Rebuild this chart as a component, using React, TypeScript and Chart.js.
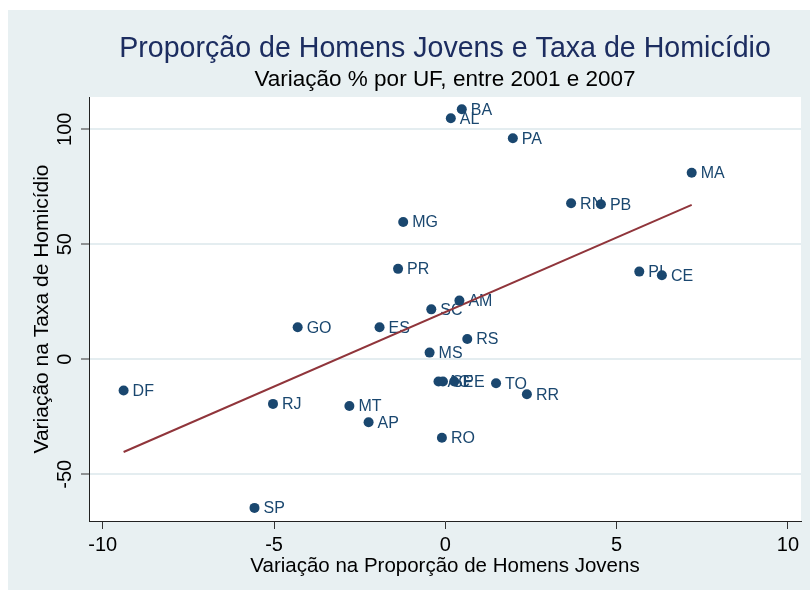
import React, { useEffect, useRef } from "react";
import { Chart, registerables } from "chart.js";

Chart.register(...registerables);

const mainTitle = "Proporção de Homens Jovens e Taxa de Homicídio";
const subTitle = "Variação % por UF, entre 2001 e 2007";
const xTitle = "Variação na Proporção de Homens Jovens";
const yTitle = "Variação na Taxa de Homicídio";

const ufLabels = ["BA", "AL", "PA", "MA", "RN", "PB", "MG", "PR", "PI", "CE", "AM", "SC", "GO", "ES", "RS", "MS", "DF", "AC", "SE", "PE", "TO", "RR", "RJ", "MT", "AP", "RO", "SP"];
const xValues = [0.48, 0.16, 1.97, 7.19, 3.67, 4.54, -1.23, -1.38, 5.66, 6.32, 0.41, -0.41, -4.31, -1.92, 0.64, -0.46, -9.39, -0.2, -0.07, 0.26, 1.48, 2.38, -5.03, -2.8, -2.24, -0.1, -5.57];
const yValues = [108.7, 104.8, 96.1, 81.1, 67.8, 67.4, 59.7, 39.3, 38.1, 36.5, 25.5, 21.7, 13.9, 13.9, 8.8, 2.9, -13.6, -9.7, -9.7, -9.7, -10.4, -15.2, -19.4, -20.3, -27.4, -34.1, -64.6];

const fitX = [-9.39, 7.19];
const fitY = [-40.3, 67.1];

const xTicks = [-10, -5, 0, 5, 10];
const yTicks = [-50, 0, 50, 100];

const NAVY = "#1a476f";
const MAROON = "#90353b";
const BG = "#e8f0f2";
const FONT = "'Liberation Sans', Arial, sans-serif";

const decorPlugin = {
  id: "decor",
  beforeDraw(chart: any) {
    const { ctx, chartArea } = chart;
    ctx.save();
    ctx.fillStyle = "#ffffff";
    ctx.fillRect(chartArea.left, chartArea.top, chartArea.right - chartArea.left, chartArea.bottom - chartArea.top);
    ctx.restore();
  },
  beforeDatasetsDraw(chart: any) {
    const { ctx } = chart;
    const meta = chart.getDatasetMeta(0);
    ctx.save();
    ctx.font = `16px ${FONT}`;
    ctx.fillStyle = NAVY;
    ctx.textAlign = "left";
    ctx.textBaseline = "middle";
    meta.data.forEach((el: any, i: number) => {
      ctx.fillText(ufLabels[i], el.x + 9, el.y + 1);
    });
    ctx.restore();
  },
  afterDraw(chart: any) {
    const { ctx, chartArea, scales } = chart;
    const cx = (chartArea.left + chartArea.right) / 2;
    ctx.save();
    ctx.textAlign = "center";
    ctx.textBaseline = "middle";
    ctx.fillStyle = "#1c2d60";
    ctx.font = `28.6px ${FONT}`;
    ctx.fillText(mainTitle, cx, 39);
    ctx.fillStyle = "#000000";
    ctx.font = `22.5px ${FONT}`;
    ctx.fillText(subTitle, cx, 70);
    // y tick labels (rotated)
    ctx.font = `20px ${FONT}`;
    yTicks.forEach((v) => {
      const py = scales.y.getPixelForValue(v);
      ctx.save();
      ctx.translate(57, py);
      ctx.rotate(-Math.PI / 2);
      ctx.fillText(String(v), 0, 0);
      ctx.restore();
    });
    ctx.restore();
  },
};

export default function App() {
  const ref = useRef<HTMLCanvasElement | null>(null);
  useEffect(() => {
    if (!ref.current) return;
    const points = xValues.map((x, i) => ({ x, y: yValues[i] }));
    const fit = fitX.map((x, i) => ({ x, y: fitY[i] }));
    const chart = new Chart(ref.current, {
      type: "scatter",
      data: {
        datasets: [
          {
            data: points,
            backgroundColor: NAVY,
            borderColor: NAVY,
            pointRadius: 5,
            pointBorderWidth: 0,
            showLine: false,
          },
          {
            type: "line",
            data: fit,
            borderColor: MAROON,
            borderWidth: 2,
            pointRadius: 0,
            fill: false,
          } as any,
        ],
      },
      options: {
        responsive: false,
        animation: false,
        layout: { padding: { top: 87, right: 9, left: 0, bottom: 0 } },
        plugins: {
          legend: { display: false },
          tooltip: { enabled: false },
          title: { display: false },
        },
        scales: {
          x: {
            type: "linear",
            min: -10.4,
            max: 10.38,
            afterBuildTicks: (s: any) => {
              s.ticks = xTicks.map((v) => ({ value: v }));
            },
            afterFit: (s: any) => {
              s.height = 69;
              s.paddingLeft = 0;
              s.paddingRight = 0;
            },
            grid: {
              display: true,
              drawOnChartArea: false,
              drawTicks: true,
              tickLength: 8,
              tickColor: "#333333",
            },
            border: { display: true, color: "#222222", width: 1 },
            ticks: {
              color: "#000000",
              font: { family: FONT, size: 20 },
              padding: 4,
              maxRotation: 0,
              minRotation: 0,
              callback: (v: any) => String(v),
            },
            title: {
              display: true,
              text: xTitle,
              color: "#000000",
              font: { family: FONT, size: 20.5 },
              padding: { top: 0, bottom: 11 },
            },
          },
          y: {
            type: "linear",
            min: -70.3,
            max: 114,
            afterBuildTicks: (s: any) => {
              s.ticks = yTicks.map((v) => ({ value: v }));
            },
            afterFit: (s: any) => {
              s.width = 81;
            },
            grid: {
              display: true,
              drawOnChartArea: true,
              drawTicks: true,
              tickLength: 8,
              color: "#e4edf0",
              lineWidth: 2,
              tickColor: "#333333",
              tickWidth: 1,
            },
            border: { display: true, color: "#222222", width: 1 },
            ticks: { display: false },
            title: {
              display: true,
              text: yTitle,
              color: "#000000",
              font: { family: FONT, size: 21 },
              padding: { top: 22, bottom: 0 },
            },
          },
        },
      },
      plugins: [decorPlugin],
    });
    return () => chart.destroy();
  }, []);
  return (
    <div style={{ position: "absolute", left: 8, top: 10, width: 802, height: 580, background: BG }}>
      <canvas ref={ref} width={802} height={580} style={{ display: "block" }} />
    </div>
  );
}
